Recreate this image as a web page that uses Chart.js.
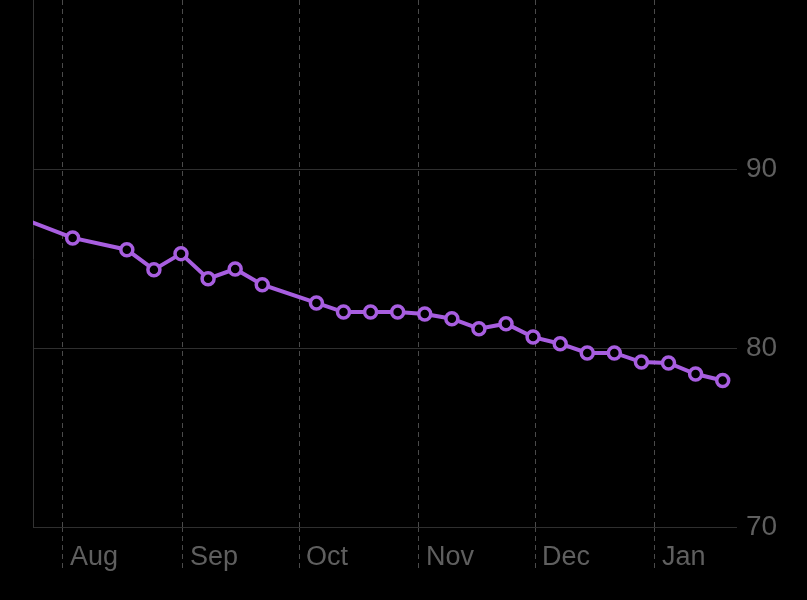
<!DOCTYPE html>
<html>
<head>
<meta charset="utf-8">
<script src="https://cdn.jsdelivr.net/npm/chart.js@4.4.1/dist/chart.umd.min.js"></script>
<style>
  html, body { margin: 0; padding: 0; background: #000; }
  #wrap { position: relative; width: 807px; height: 600px; overflow: hidden; background: #000; }
  #box { position: absolute; left: 0; top: -40px; width: 807px; height: 640px; }
</style>
</head>
<body>
<div id="wrap"><div id="box"><canvas id="chart"></canvas></div></div>
<script>
// weekly weigh-ins
const dates = [
  "2023-07-20", "2023-08-03", "2023-08-17", "2023-08-24", "2023-08-31",
  "2023-09-07", "2023-09-14", "2023-09-21", "2023-10-05", "2023-10-12",
  "2023-10-19", "2023-10-26", "2023-11-02", "2023-11-09", "2023-11-16",
  "2023-11-23", "2023-11-30", "2023-12-07", "2023-12-14", "2023-12-21",
  "2023-12-28", "2024-01-04", "2024-01-11", "2024-01-18"
];
const weights = [
  87.35, 86.18, 85.52, 84.40, 85.30,
  83.90, 84.44, 83.56, 82.54, 82.03,
  82.03, 82.03, 81.92, 81.66, 81.10,
  81.38, 80.63, 80.26, 79.74, 79.74,
  79.23, 79.18, 78.56, 78.20
];
const monthStarts = ["2023-08-01", "2023-09-01", "2023-10-01", "2023-11-01", "2023-12-01", "2024-01-01"];
const monthLabels = ["Aug", "Sep", "Oct", "Nov", "Dec", "Jan"];
const yTicks = [70, 80, 90, 100];

const DAY = 86400000;
const origin = Date.UTC(2023, 7, 1);
const toDay = (s) => {
  const [y, m, d] = s.split("-").map(Number);
  return (Date.UTC(y, m - 1, d) - origin) / DAY;
};

const points = dates.map((d, i) => ({ x: toDay(d) + 0.5, y: weights[i] }));
const tickDays = monthStarts.map(toDay);

const purple = "#a85ee0";
const fontFamily = "'Liberation Sans', Arial, sans-serif";

new Chart(document.getElementById("chart"), {
  type: "line",
  data: {
    datasets: [{
      data: points,
      borderColor: purple,
      borderWidth: 4,
      pointRadius: 6,
      pointBorderWidth: 3.5,
      pointBorderColor: purple,
      pointBackgroundColor: "#000",
      tension: 0,
      yAxisID: "y"
    }]
  },
  options: {
    responsive: true,
    maintainAspectRatio: false,
    animation: false,
    events: [],
    layout: { padding: { top: 31, left: 0, right: 0, bottom: 0 } },
    plugins: { legend: { display: false }, tooltip: { enabled: false } },
    scales: {
      x: {
        type: "linear",
        min: -7.75,
        max: 174.2,
        afterBuildTicks: (scale) => { scale.ticks = tickDays.map(v => ({ value: v })); },
        afterFit: (scale) => { scale.height = 73; },
        ticks: {
          autoSkip: false,
          maxRotation: 0,
          align: "start",
          labelOffset: 7,
          padding: -30,
          color: "#5f5f5f",
          font: { family: fontFamily, size: 27 },
          callback: (v) => monthLabels[tickDays.indexOf(v)]
        },
        grid: {
          color: "#4a4a4a",
          lineWidth: 1,
          tickLength: 44,
          tickColor: "#4a4a4a",
          tickBorderDash: [5, 4]
        },
        border: { display: false, dash: [5, 4] }
      },
      y: {
        position: "right",
        min: 70,
        max: 100,
        afterBuildTicks: (scale) => { scale.ticks = yTicks.map(v => ({ value: v })); },
        afterFit: (scale) => { scale.width = 70; },
        ticks: {
          padding: 9,
          color: "#5f5f5f",
          font: { family: fontFamily, size: 28 }
        },
        grid: { color: "#2f2f2f", lineWidth: 1, drawTicks: false },
        border: { display: false }
      },
      edge: {
        type: "linear",
        position: "left",
        afterFit: (scale) => { scale.width = 33; },
        ticks: { display: false },
        grid: { display: false, drawTicks: false },
        border: { display: true, color: "#333333", width: 1 }
      }
    }
  }
});
</script>
</body>
</html>
